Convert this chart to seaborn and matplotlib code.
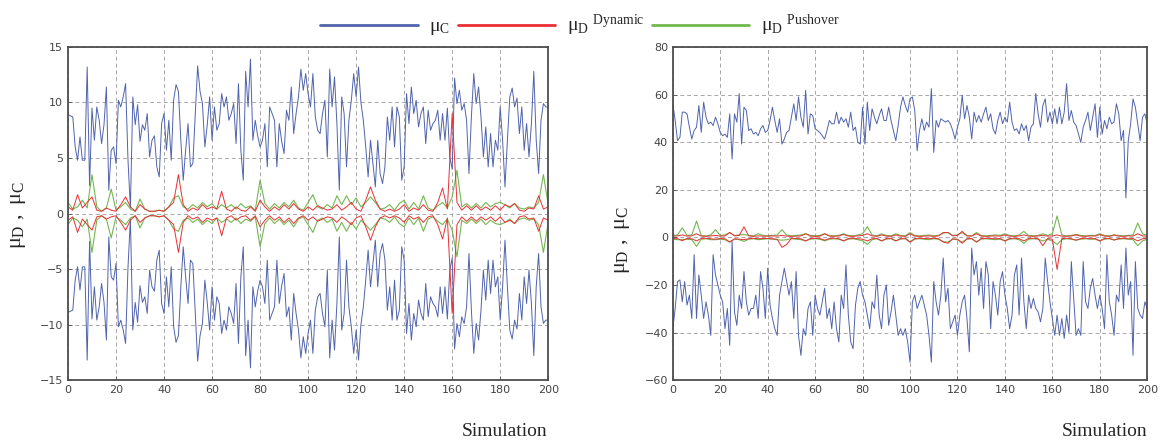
import numpy as np
import matplotlib
matplotlib.use("Agg")
import matplotlib.pyplot as plt
from matplotlib import font_manager
import seaborn as sns
from matplotlib.lines import Line2D

# ---- data ----
sims = np.arange(0, 201)          # simulation index, 1 step
sims_even = np.arange(0, 201, 2)  # red / green series were read every 2nd simulation

# left panel: capacity mu_C (drawn as +/-)
left_mu_c = [
    8.9, 8.8, 8.7, 6.0, 4.8, 6.9, 4.8, 4.8, 13.2, 2.5,
    9.5, 6.6, 9.6, 8.4, 6.3, 8.0, 11.4, 2.1, 5.7, 6.0,
    4.5, 10.2, 9.6, 10.5, 11.7, 4.8, 0.5, 10.5, 8.0, 9.8,
    6.5, 8.0, 7.5, 9.0, 5.1, 6.6, 7.0, 4.2, 3.3, 8.1,
    9.0, 5.7, 8.4, 4.8, 10.2, 11.6, 11.0, 6.6, 3.0, 5.7,
    8.1, 4.2, 4.5, 9.0, 13.3, 11.0, 9.9, 6.0, 8.0, 10.5,
    6.6, 9.6, 7.5, 8.1, 10.8, 9.6, 10.5, 8.4, 9.0, 9.9,
    6.3, 11.7, 5.7, 3.0, 12.8, 9.6, 13.9, 6.6, 8.4, 7.0,
    6.0, 6.6, 8.1, 4.2, 9.6, 9.0, 8.4, 4.2, 8.1, 6.5,
    5.4, 9.3, 8.4, 11.4, 7.2, 9.0, 10.5, 13.0, 11.1, 12.6,
    10.8, 9.6, 12.6, 8.7, 7.5, 7.2, 9.0, 10.2, 5.1, 13.0,
    9.6, 12.3, 8.1, 2.1, 10.5, 9.0, 4.2, 8.4, 10.2, 12.6,
    10.5, 13.2, 10.0, 8.4, 6.0, 3.3, 6.6, 4.5, 2.4, 6.6,
    3.6, 2.7, 4.2, 8.7, 6.6, 9.6, 6.0, 9.6, 8.7, 3.0,
    4.2, 10.8, 8.1, 11.4, 9.0, 10.2, 7.8, 9.0, 9.6, 6.3,
    9.3, 7.5, 8.1, 8.4, 9.3, 6.6, 9.0, 6.6, 9.5, 5.1,
    4.0, 12.2, 9.9, 11.1, 9.3, 9.9, 8.4, 3.6, 8.7, 12.6,
    9.9, 11.4, 8.7, 5.1, 7.8, 4.2, 7.2, 4.2, 6.6, 5.7,
    9.6, 6.6, 2.4, 6.6, 10.5, 11.3, 9.6, 10.4, 7.2, 9.6,
    5.7, 8.1, 5.1, 8.1, 12.8, 6.6, 3.6, 8.4, 9.9, 9.6,
    9.6,
]

# left panel: demand envelopes (drawn as +/-)
left_dyn = [
    0.6, 0.3, 1.7, 0.5, 1.0, 1.5, 0.3, 0.2, 0.5, 0.3,
    0.2, 0.8, 1.5, 0.6, 0.2, 0.8, 0.4, 0.2, 0.2, 0.3,
    0.2, 0.6, 1.0, 3.5, 0.8, 0.2, 0.5, 0.3, 0.8, 0.4,
    0.6, 0.4, 2.0, 0.4, 0.2, 0.6, 0.3, 0.2, 0.6, 0.2,
    1.2, 0.6, 0.2, 0.6, 0.3, 0.8, 0.4, 0.9, 0.4, 0.2,
    0.6, 0.3, 0.7, 0.5, 0.3, 0.4, 0.8, 0.3, 0.6, 1.0,
    0.4, 0.2, 1.2, 2.4, 1.2, 0.4, 0.2, 0.4, 0.2, 0.4,
    0.8, 0.2, 0.5, 0.3, 0.8, 0.3, 0.2, 1.0, 2.3, 0.4,
    9.0, 1.0, 0.3, 0.7, 0.3, 0.7, 0.3, 0.6, 0.3, 0.7,
    0.3, 0.8, 0.6, 0.9, 0.3, 0.2, 0.5, 0.4, 1.6, 0.4,
    0.6,
]
left_push = [
    1.0, 0.4, 0.6, 1.2, 0.5, 3.5, 0.6, 0.2, 0.5, 2.2,
    0.3, 0.6, 1.0, 0.4, 0.2, 1.3, 0.4, 0.2, 0.2, 0.3,
    0.2, 0.6, 1.4, 1.6, 0.6, 0.4, 0.8, 0.5, 1.0, 0.6,
    0.9, 0.4, 0.8, 0.5, 0.8, 0.4, 0.9, 0.5, 0.7, 0.3,
    3.0, 0.9, 0.4, 0.9, 0.5, 1.0, 0.6, 1.2, 0.5, 0.3,
    1.0, 1.7, 0.6, 0.4, 0.8, 0.5, 1.6, 0.8, 1.6, 0.8,
    1.4, 0.6, 1.0, 1.5, 1.0, 0.4, 0.5, 0.8, 0.3, 0.9,
    1.2, 0.4, 1.0, 0.4, 1.6, 0.5, 0.3, 0.7, 1.0, 0.5,
    1.5, 3.9, 0.6, 0.9, 0.5, 0.9, 0.5, 1.0, 0.6, 0.9,
    1.0, 0.8, 0.5, 0.9, 0.5, 0.4, 0.6, 0.5, 1.0, 3.5,
    0.8,
]

# right panel: capacity, upper and lower
right_mu_c_up = [
    56.1, 49.1, 40.6, 42.0, 52.6, 52.6, 51.9, 46.3, 41.3, 44.9,
    46.3, 55.4, 44.1, 56.8, 50.5, 47.7, 48.4, 47.0, 50.5, 47.7,
    44.1, 42.7, 43.4, 42.0, 51.9, 32.9, 51.9, 48.4, 60.4, 39.2,
    54.7, 53.3, 44.9, 45.6, 43.4, 44.1, 42.7, 45.6, 47.0, 44.1,
    44.9, 49.1, 54.7, 49.1, 44.1, 49.8, 39.2, 41.3, 44.1, 44.9,
    50.5, 56.1, 49.1, 59.0, 50.5, 46.3, 61.8, 43.4, 51.9, 51.2,
    45.6, 44.9, 44.0, 42.7, 41.3, 44.9, 49.1, 47.7, 47.7, 52.6,
    47.7, 50.5, 48.4, 49.8, 46.3, 52.6, 44.9, 46.3, 39.9, 39.2,
    54.7, 39.2, 56.8, 44.9, 54.0, 50.5, 47.7, 51.2, 54.0, 49.1,
    49.1, 54.7, 49.1, 44.9, 40.6, 47.0, 54.7, 59.0, 55.4, 52.6,
    58.2, 59.0, 53.3, 36.4, 44.9, 49.8, 44.9, 48.4, 46.3, 62.5,
    35.7, 49.1, 46.3, 49.8, 49.1, 48.4, 49.1, 47.7, 44.9, 41.3,
    46.3, 49.8, 59.7, 49.8, 55.4, 50.5, 41.3, 52.6, 48.4, 51.2,
    48.4, 51.9, 54.7, 49.1, 51.9, 45.6, 43.4, 49.1, 52.6, 47.7,
    50.5, 48.4, 56.8, 48.4, 44.9, 45.6, 43.4, 47.7, 44.9, 47.0,
    40.6, 46.3, 47.7, 60.4, 51.9, 46.3, 55.4, 58.2, 48.4, 52.6,
    47.7, 54.0, 47.7, 54.7, 47.7, 52.6, 64.6, 49.1, 53.3, 48.4,
    47.0, 43.4, 39.9, 46.3, 49.1, 52.6, 44.9, 50.5, 56.1, 42.0,
    54.7, 43.4, 49.1, 45.6, 50.5, 47.7, 48.4, 56.1, 51.9, 40.6,
    44.9, 16.6, 40.6, 47.7, 58.2, 54.7, 47.7, 40.6, 50.5, 51.9,
    47.7,
]
right_mu_c_lo = [
    -38.4, -29.9, -18.6, -17.9, -27.1, -18.6, -28.5, -24.3, -34.1, -7.3,
    -34.1, -15.8, -24.3, -34.1, -27.1, -32.7, -41.2, -7.3, -15.8, -20.0,
    -24.3, -27.1, -38.4, -29.9, -45.4, -1.7, -31.3, -37.0, -24.3, -29.9,
    -14.4, -27.1, -32.7, -29.9, -29.9, -24.3, -34.1, -14.4, -21.4, -34.1,
    -13.0, -28.5, -34.1, -38.4, -41.2, -24.3, -18.6, -13.0, -18.6, -24.3,
    -18.6, -34.1, -14.4, -41.2, -49.6, -38.4, -41.2, -29.9, -27.1, -41.2,
    -24.3, -29.9, -32.7, -27.1, -21.4, -34.1, -29.9, -38.4, -27.1, -38.4,
    -44.0, -24.3, -29.9, -11.6, -32.7, -44.0, -46.8, -28.5, -21.4, -18.6,
    -24.3, -27.1, -32.7, -38.4, -27.1, -29.9, -15.8, -32.7, -38.4, -24.3,
    -20.0, -37.0, -31.3, -24.3, -32.7, -41.2, -38.4, -41.2, -38.4, -44.0,
    -52.5, -27.1, -24.3, -29.9, -27.1, -24.3, -28.5, -32.7, -41.2, -52.5,
    -18.6, -27.1, -32.7, -24.3, -8.7, -27.1, -21.4, -38.4, -35.5, -32.7,
    -41.2, -32.7, -27.1, -24.3, -34.1, -48.1, -4.5, -15.8, -10.2, -24.3,
    -13.0, -29.9, -10.2, -15.8, -38.4, -18.6, -24.3, -32.7, -18.6, -14.4,
    -24.3, -29.9, -38.4, -32.7, -15.8, -11.6, -32.7, -8.7, -27.1, -38.4,
    -24.3, -29.9, -25.7, -29.9, -31.3, -35.5, -29.9, -8.7, -18.6, -27.1,
    -34.1, -41.2, -32.7, -41.2, -34.1, -42.5, -32.7, -40.0, -10.2, -25.7,
    -41.2, -38.4, -41.2, -10.2, -27.1, -29.9, -21.4, -17.3, -24.3, -29.9,
    -24.3, -29.9, -38.4, -7.3, -27.1, -32.7, -41.2, -24.3, -27.1, -11.6,
    -29.9, -4.5, -24.3, -18.6, -49.6, -10.2, -29.9, -32.7, -34.1, -27.1,
    -30.0,
]

# right panel: demand envelopes (upper / lower)
right_dyn_up = [
    0.5, 0.6, 1.0, 0.5, 0.6, 1.5, 0.5, 0.4, 0.6, 0.8,
    0.5, 0.6, 2.0, 0.6, 0.8, 4.4, 0.6, 0.4, 0.6, 0.5,
    0.5, 0.6, 0.5, 0.8, 0.5, 0.4, 0.5, 0.6, 1.5, 0.5,
    0.4, 0.5, 1.5, 0.5, 0.4, 0.6, 1.2, 0.5, 0.4, 0.6,
    0.8, 1.5, 0.6, 0.4, 1.0, 0.5, 0.4, 1.0, 0.5, 0.4,
    1.5, 0.5, 0.4, 0.5, 0.6, 0.4, 0.6, 2.0, 2.0, 0.6,
    0.8, 2.5, 0.6, 0.5, 1.5, 0.5, 0.4, 0.5, 0.6, 0.5,
    1.0, 0.5, 0.4, 0.6, 1.0, 0.5, 0.4, 0.6, 0.8, 0.5,
    0.6, 1.0, 0.5, 0.4, 0.6, 1.0, 0.5, 0.4, 0.6, 0.5,
    1.2, 0.5, 0.4, 1.0, 0.5, 0.4, 0.6, 0.5, 1.5, 0.6,
    0.5,
]
right_dyn_lo = [
    -0.5, -0.6, -1.4, -0.5, -0.6, -1.5, -0.5, -0.4, -0.6, -0.8,
    -0.5, -0.6, -2.0, -0.6, -0.8, -1.0, -0.6, -0.4, -0.6, -0.5,
    -0.5, -0.6, -0.8, -4.2, -3.0, -0.4, -0.5, -0.6, -1.5, -0.5,
    -0.4, -0.5, -1.2, -0.5, -0.4, -0.6, -1.5, -0.5, -0.4, -0.6,
    -0.8, -1.5, -0.6, -0.4, -1.5, -0.5, -0.4, -1.5, -0.5, -0.4,
    -2.0, -0.5, -0.4, -0.5, -0.6, -0.4, -0.6, -2.0, -2.5, -0.6,
    -0.8, -2.5, -0.6, -0.5, -2.0, -0.5, -0.4, -0.5, -0.6, -0.5,
    -1.5, -0.5, -0.4, -0.6, -1.5, -0.5, -0.4, -0.6, -3.5, -0.5,
    -0.8, -13.5, -0.5, -0.4, -0.6, -1.2, -0.5, -0.4, -0.6, -0.5,
    -1.5, -0.5, -0.4, -1.2, -0.5, -0.4, -0.6, -0.5, -1.5, -0.6,
    -0.5,
]
right_push_up = [
    0.8, 1.0, 4.0, 0.8, 1.0, 6.8, 0.8, 0.6, 1.0, 3.2,
    0.8, 1.0, 2.0, 0.8, 1.0, 1.2, 0.8, 0.6, 1.5, 0.8,
    0.6, 0.8, 1.0, 3.2, 1.0, 0.6, 0.8, 1.0, 1.5, 0.8,
    0.6, 0.8, 1.5, 0.8, 0.6, 0.8, 1.5, 0.8, 0.6, 1.0,
    1.5, 4.5, 1.0, 0.6, 1.5, 0.8, 0.6, 1.5, 0.8, 0.6,
    2.0, 0.8, 0.6, 0.8, 1.0, 0.6, 0.8, 1.8, 2.0, 0.8,
    1.0, 2.0, 0.8, 0.6, 2.0, 0.8, 0.6, 0.8, 1.0, 0.8,
    1.5, 0.8, 0.6, 1.0, 2.5, 0.8, 0.6, 0.8, 1.5, 0.8,
    1.5, 9.0, 1.0, 0.6, 0.8, 1.2, 0.8, 0.6, 0.8, 0.8,
    1.5, 0.8, 0.6, 1.0, 0.8, 0.6, 0.8, 1.0, 6.0, 1.5,
    0.8,
]
right_push_lo = [
    -0.8, -1.0, -1.0, -0.8, -1.0, -3.8, -0.8, -0.6, -1.0, -1.0,
    -0.8, -1.0, -2.0, -0.8, -1.0, -1.7, -0.8, -0.6, -1.0, -0.8,
    -0.6, -0.8, -1.0, -1.2, -1.0, -0.6, -0.8, -1.0, -1.5, -0.8,
    -0.6, -0.8, -1.5, -0.8, -0.6, -0.8, -1.5, -0.8, -0.6, -1.0,
    -1.5, -3.0, -1.0, -0.6, -1.5, -0.8, -0.6, -1.5, -0.8, -0.6,
    -2.0, -0.8, -0.6, -0.8, -1.0, -0.6, -0.8, -1.8, -2.0, -0.8,
    -1.0, -2.0, -0.8, -0.6, -2.0, -0.8, -0.6, -0.8, -1.0, -0.8,
    -1.5, -0.8, -0.6, -1.0, -2.5, -0.8, -0.6, -0.8, -1.5, -0.8,
    -1.5, -3.0, -1.0, -0.6, -0.8, -1.2, -0.8, -0.6, -0.8, -0.8,
    -1.5, -0.8, -0.6, -1.0, -0.8, -0.6, -0.8, -1.0, -3.5, -1.5,
    -0.8,
]

x_ticks = list(range(0, 201, 20))
left_y_ticks = list(range(-15, 16, 5))
right_y_ticks = list(range(-60, 81, 20))

BLUE = "#5063ad"
RED = "#ea2e33"
GREEN = "#72b850"

sns.set_style("white")
# upright serif mu, like the original labels
plt.rcParams["mathtext.fontset"] = "custom"
plt.rcParams["mathtext.rm"] = "Liberation Serif"
plt.rcParams["mathtext.it"] = "Liberation Serif"
plt.rcParams["mathtext.bf"] = "Liberation Serif"

installed = {f.name for f in font_manager.fontManager.ttflist}
tick_family = "Liberation Sans Narrow" if "Liberation Sans Narrow" in installed else "DejaVu Sans"

fig = plt.figure(figsize=(11.6, 4.43), dpi=100)
ax1 = fig.add_axes([0.0586, 0.142, 0.414, 0.752])
ax2 = fig.add_axes([0.580, 0.142, 0.409, 0.752])


def draw_panel(ax, up, lo, dyn_up, dyn_lo, push_up, push_lo, yticks):
    sns.lineplot(x=sims, y=up, ax=ax, color=BLUE, lw=0.7)
    sns.lineplot(x=sims, y=lo, ax=ax, color=BLUE, lw=0.7)
    sns.lineplot(x=sims_even, y=push_up, ax=ax, color=GREEN, lw=0.8)
    sns.lineplot(x=sims_even, y=push_lo, ax=ax, color=GREEN, lw=0.8)
    sns.lineplot(x=sims_even, y=dyn_up, ax=ax, color=RED, lw=0.7)
    sns.lineplot(x=sims_even, y=dyn_lo, ax=ax, color=RED, lw=0.7)
    ax.set_xlim(0, 200)
    ax.set_ylim(yticks[0], yticks[-1])
    ax.set_xticks(x_ticks)
    ax.set_yticks(yticks)
    ax.grid(True, ls=(0, (4, 3)), color="#a8a8a8", lw=0.7)
    ax.set_xlabel("")
    ax.set_ylabel("")
    ax.tick_params(direction="in", length=3, width=0.6, colors="#555555",
                   labelsize=8, labelcolor="#444444", bottom=True, left=True)
    for lab in ax.get_xticklabels() + ax.get_yticklabels():
        lab.set_family(tick_family)
    for s in ax.spines.values():
        s.set_color("#4d4d4d")
        s.set_linewidth(1.3)


draw_panel(ax1, left_mu_c, [-v for v in left_mu_c],
           left_dyn, [-v for v in left_dyn],
           left_push, [-v for v in left_push], left_y_ticks)
draw_panel(ax2, right_mu_c_up, right_mu_c_lo,
           right_dyn_up, right_dyn_lo,
           right_push_up, right_push_lo, right_y_ticks)

# axis labels placed like the original figure
ylab = r"$\mu_D\ ,\ \mu_C$"
fig.text(18 / 1160, 1 - 215 / 443, ylab, rotation=90, ha="center", va="center", fontsize=16)
fig.text(622 / 1160, 1 - 240 / 443, ylab, rotation=90, ha="center", va="center", fontsize=16)
fig.text(505 / 1160, 1 - 432 / 443, "Simulation", ha="center", va="center",
         fontsize=14, family="Liberation Serif")
fig.text(1105 / 1160, 1 - 432 / 443, "Simulation", ha="center", va="center",
         fontsize=14, family="Liberation Serif")

handles = [Line2D([], [], color=BLUE, lw=2), Line2D([], [], color=RED, lw=2),
           Line2D([], [], color=GREEN, lw=2)]
labels = [r"$\mu_C$", r"$\mu_D\ {}^{\mathrm{Dynamic}}$", r"$\mu_D\ {}^{\mathrm{Pushover}}$"]
fig.legend(handles, labels, loc="upper center", bbox_to_anchor=(0.5, 1.01), ncol=3,
           frameon=False, fontsize=14, handlelength=5, handletextpad=0.6, columnspacing=0.4)

fig.savefig("out.png", dpi=100, facecolor="white")
